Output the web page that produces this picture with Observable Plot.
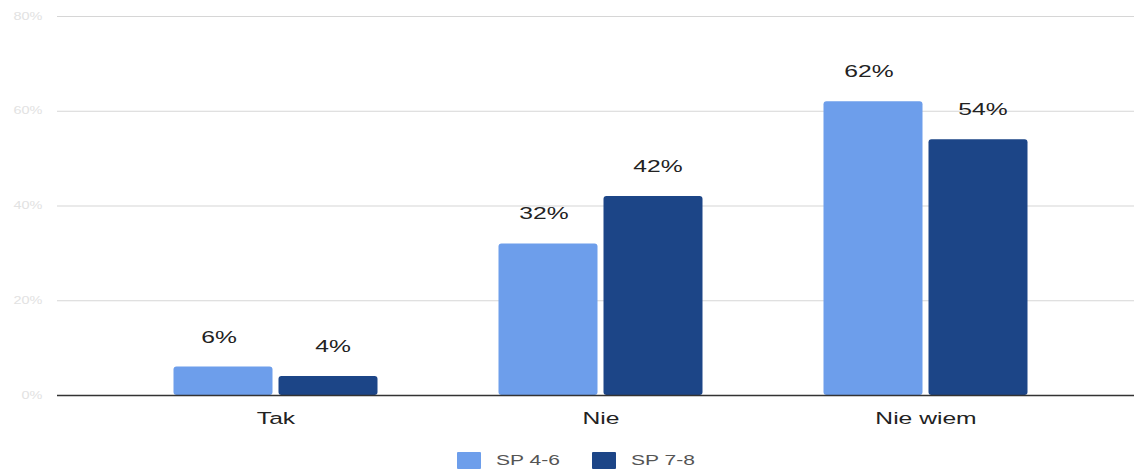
<!DOCTYPE html>
<html>
<head>
<meta charset="utf-8">
<script src="https://cdn.jsdelivr.net/npm/d3@7"></script>
<script src="https://cdn.jsdelivr.net/npm/@observablehq/plot@0.6"></script>
<style>
  body { margin: 0; background: #fff; font-family: "Liberation Sans", Arial, sans-serif; }
  #legend { position: relative; height: 33px; color: #555; font-size: 14.5px; }
  .sw { position: absolute; top: 12px; width: 24px; height: 17px; border-radius: 1px; }
  .lt { position: absolute; top: 12px; line-height: 17px; transform: scaleX(1.45); transform-origin: left center; white-space: nowrap; }
</style>
</head>
<body>
<div id="chart"></div>
<div id="legend"></div>
<script>
const categories = ["Tak", "Nie", "Nie wiem"];
const seriesNames = ["SP 4-6", "SP 7-8"];
const sp46 = [6, 32, 62];
const sp78 = [4, 42, 54];
const yTicks = [0, 20, 40, 60, 80];
const colors = ["#6d9eeb", "#1c4587"];

const d46 = categories.map((c, i) => ({category: c, value: sp46[i]}));
const d78 = categories.map((c, i) => ({category: c, value: sp78[i]}));

const chart = Plot.plot({
  width: 1135,
  height: 440,
  marginLeft: 112,
  marginRight: 47,
  marginTop: 16,
  marginBottom: 45,
  style: {fontFamily: "'Liberation Sans', Arial, sans-serif", background: "#fff"},
  x: {domain: categories, padding: 0, label: null},
  y: {domain: [0, 80], label: null},
  marks: [
    Plot.ruleY(yTicks.filter(d => d > 0), {stroke: "#d6d6d6", strokeWidth: 1.2, insetLeft: -55, insetRight: -46}),
    Plot.barY(d46, {x: "category", y: "value", fill: colors[0], insetLeft: 60.5, insetRight: 165.5, rx: 3}),
    Plot.barY(d78, {x: "category", y: "value", fill: colors[1], insetLeft: 165.5, insetRight: 60.5, rx: 3}),
    Plot.text(d46, {x: "category", y: "value", text: d => d.value + "%", dx: -57, dy: -30, fontSize: 17, fill: "#222"}),
    Plot.text(d78, {x: "category", y: "value", text: d => d.value + "%", dx: 57, dy: -30, fontSize: 17, fill: "#222"}),
    Plot.ruleY([0], {stroke: "#333", strokeWidth: 1.3, insetLeft: -55, insetRight: -46}),
    Plot.axisX({tickSize: 0, tickPadding: 16, fontSize: 17, color: "#222"}),
    Plot.axisY(yTicks, {tickSize: 0, tickPadding: 70, fontSize: 10, color: "#e2e2e2", tickFormat: d => d + "%"})
  ]
});
document.getElementById("chart").appendChild(chart);

// the reference's lettering is horizontally stretched
chart.querySelectorAll("text").forEach(t => {
  const tr = t.getAttribute("transform");
  if (tr && tr.includes("translate")) {
    t.setAttribute("transform", tr + " scale(1.45,1)");
  } else {
    const g = document.createElementNS("http://www.w3.org/2000/svg", "g");
    const x = +t.getAttribute("x") || 0, y = +t.getAttribute("y") || 0;
    t.parentNode.insertBefore(g, t);
    g.appendChild(t);
    g.setAttribute("transform", `translate(${x},${y}) scale(1.45,1) translate(${-x},${-y})`);
  }
});

const legend = document.getElementById("legend");
const swX = [457, 592];
const txtX = [496, 631];
seriesNames.forEach((s, i) => {
  const sw = document.createElement("div");
  sw.className = "sw";
  sw.style.left = swX[i] + "px";
  sw.style.background = colors[i];
  const t = document.createElement("span");
  t.className = "lt";
  t.style.left = txtX[i] + "px";
  t.textContent = s;
  legend.appendChild(sw);
  legend.appendChild(t);
});
</script>
</body>
</html>
